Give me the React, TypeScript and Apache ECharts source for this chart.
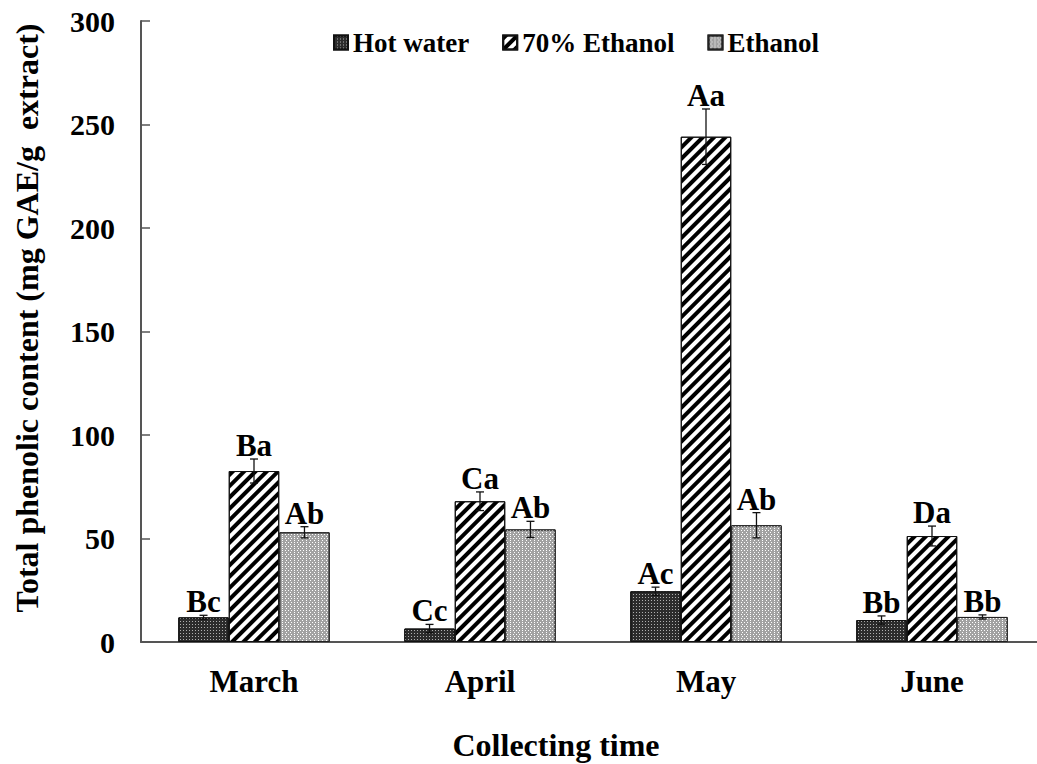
import React, { useEffect, useRef } from "react";
import * as echarts from "echarts";

// Collecting months and extraction solvents
const categories = ["March", "April", "May", "June"];
const seriesNames = ["Hot water", "70% Ethanol", "Ethanol"];

// Total phenolic content, mg GAE/g extract
const hotWater = [11.9, 6.5, 24.5, 10.6];
const ethanol70 = [82.6, 68.0, 244.1, 51.2];
const ethanolPure = [53.0, 54.4, 56.4, 12.1];

// Standard deviations
const hotWaterErr = [1.0, 2.0, 2.0, 2.0];
const ethanol70Err = [5.8, 4.5, 13.4, 4.8];
const ethanolPureErr = [2.7, 3.9, 6.1, 1.0];

// Significance letters
const hotWaterLetters = ["Bc", "Cc", "Ac", "Bb"];
const ethanol70Letters = ["Ba", "Ca", "Aa", "Da"];
const ethanolPureLetters = ["Ab", "Ab", "Ab", "Bb"];

// Y axis ticks
const yMin = 0;
const yMax = 300;
const yStep = 50;

const FONT = "'Liberation Serif', 'Times New Roman', serif";
const GAP = 0.33; // barCategoryGap fraction

export default function App() {
  const ref = useRef<HTMLDivElement>(null);

  useEffect(() => {
    if (!ref.current) return;
    const chart = echarts.init(ref.current, null, { renderer: "svg" });

    const values = [hotWater, ethanol70, ethanolPure];
    const errs = [hotWaterErr, ethanol70Err, ethanolPureErr];
    const letters = [hotWaterLetters, ethanol70Letters, ethanolPureLetters];

    const errData: any[] = [];
    values.forEach((arr, s) =>
      arr.forEach((v, c) => errData.push([c, v, errs[s][c], s, letters[s][c]]))
    );

    const styles = [
      {
        color: "#2c2c2c",
        borderColor: "#111",
        borderWidth: 1,
        decal: {
          symbol: "rect",
          symbolSize: 1,
          color: "rgba(190,190,190,0.9)",
          dashArrayX: [1, 2],
          dashArrayY: [1, 2],
        },
      },
      {
        color: "#ffffff",
        borderColor: "#111",
        borderWidth: 1,
        decal: {
          symbol: "rect",
          symbolSize: 1,
          color: "#000000",
          dashArrayX: [1, 0],
          dashArrayY: [3.5, 4],
          rotation: -Math.PI / 4,
        },
      },
      {
        color: "#a2a2a2",
        borderColor: "#222",
        borderWidth: 1,
        decal: {
          symbol: "rect",
          symbolSize: 1,
          color: "#ffffff",
          dashArrayX: [
            [1, 2],
            [0, 1.5, 1, 0.5],
          ],
          dashArrayY: [1, 0.5],
        },
      },
    ];

    const barSeries = values.map((arr, s) => ({
      name: seriesNames[s],
      type: "bar",
      data: arr,
      barGap: "0%",
      barCategoryGap: GAP * 100 + "%",
      itemStyle: styles[s],
    }));

    const boldText = (size: number) => ({
      fontFamily: FONT,
      fontWeight: "bold",
      fontSize: size,
      color: "#000",
    });

    const option: any = {
      animation: false,
      backgroundColor: "#ffffff",
      textStyle: { fontFamily: FONT },
      grid: { left: 141, right: 0, top: 21, bottom: 122, containLabel: false },
      legend: {
        data: seriesNames,
        top: 24,
        left: 328,
        icon: "rect",
        itemWidth: 14,
        itemHeight: 14,
        itemGap: 33,
        textStyle: boldText(27),
      },
      xAxis: {
        type: "category",
        data: categories,
        axisLine: { lineStyle: { color: "#555", width: 2 } },
        axisTick: { show: false },
        axisLabel: { ...boldText(31), margin: 24 },
      },
      yAxis: {
        type: "value",
        min: yMin,
        max: yMax,
        interval: yStep,
        axisLine: { show: true, lineStyle: { color: "#555", width: 2 } },
        axisTick: { show: true, inside: true, length: 9, lineStyle: { color: "#555", width: 1.5 } },
        splitLine: { show: false },
        axisLabel: { ...boldText(30), margin: 26 },
      },
      graphic: [
        {
          type: "text",
          x: 556,
          y: 745,
          style: {
            text: "Collecting time",
            font: `bold 32px ${FONT}`,
            fill: "#000",
            align: "center",
            verticalAlign: "middle",
          },
        },
        {
          type: "text",
          x: 27,
          y: 318,
          rotation: Math.PI / 2,
          style: {
            text: "Total phenolic content (mg GAE/g  extract)",
            font: `bold 32px ${FONT}`,
            fill: "#000",
            align: "center",
            verticalAlign: "middle",
          },
        },
      ],
      series: [
        ...barSeries,
        {
          type: "custom",
          name: "errors",
          data: errData,
          z: 10,
          silent: true,
          encode: { x: 0, y: 1 },
          renderItem: (params: any, api: any) => {
            const c = api.value(0);
            const v = api.value(1);
            const e = api.value(2);
            const s = api.value(3);
            const label = errData[params.dataIndex][4];
            const catW = api.size([1, 0])[0];
            const barW = (catW * (1 - GAP)) / 3;
            const center = api.coord([c, v]);
            const x = center[0] + (s - 1) * barW;
            const yTop = api.coord([c, v + e])[1];
            const yBot = api.coord([c, v - e])[1];
            const cap = 4;
            const lineStyle = { stroke: "#111", lineWidth: 1.3 };
            return {
              type: "group",
              children: [
                { type: "line", shape: { x1: x, y1: yTop, x2: x, y2: yBot }, style: lineStyle },
                { type: "line", shape: { x1: x - cap, y1: yTop, x2: x + cap, y2: yTop }, style: lineStyle },
                { type: "line", shape: { x1: x - cap, y1: yBot, x2: x + cap, y2: yBot }, style: lineStyle },
                {
                  type: "text",
                  x: x,
                  y: yTop + 2,
                  style: {
                    text: label,
                    font: `bold 31px ${FONT}`,
                    fill: "#000",
                    align: "center",
                    verticalAlign: "bottom",
                  },
                },
              ],
            };
          },
        },
      ],
    };

    chart.setOption(option);
    return () => chart.dispose();
  }, []);

  return (
    <div
      style={{
        position: "fixed",
        left: 0,
        top: 0,
        width: 1037,
        height: 764,
        overflow: "hidden",
        background: "#fff",
      }}
    >
      <div ref={ref} style={{ width: 1045, height: 764 }} />
    </div>
  );
}
